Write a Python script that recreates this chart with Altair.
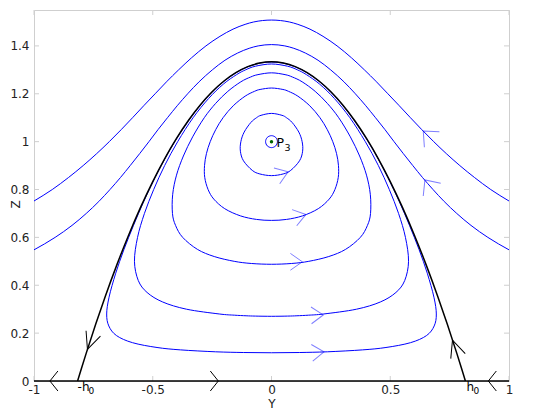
import altair as alt
import pandas as pd

W, H = 475, 371

# ---- axis ticks ----
x_ticks = [-1, -0.5, 0, 0.5, 1]
z_ticks = [0, 0.2, 0.4, 0.6, 0.8, 1.0, 1.2, 1.4]

# ---- open trajectories above the separatrix ----
outer1_y = [-1.0, -0.923, -0.855, -0.793, -0.736, -0.683, -0.633, -0.585, -0.538, -0.490, -0.442, -0.391, -0.337, -0.276, -0.217, -0.162, -0.111, -0.075, 0.0,
            0.075, 0.111, 0.162, 0.217, 0.276, 0.337, 0.391, 0.442, 0.490, 0.538, 0.585, 0.633, 0.683, 0.736, 0.793, 0.855, 0.923, 1.0]
outer1_z = [0.752, 0.80, 0.85, 0.90, 0.95, 1.00, 1.05, 1.10, 1.15, 1.20, 1.25, 1.30, 1.35, 1.40, 1.44, 1.47, 1.49, 1.50, 1.508,
            1.50, 1.49, 1.47, 1.44, 1.40, 1.35, 1.30, 1.25, 1.20, 1.15, 1.10, 1.05, 1.00, 0.95, 0.90, 0.85, 0.80, 0.752]

outer2_y = [-1.0, -0.911, -0.840, -0.780, -0.727, -0.680, -0.636, -0.595, -0.555, -0.516, -0.478, -0.438, -0.397, -0.353, -0.305, -0.249, -0.196, -0.143, -0.094, -0.056, 0.0,
            0.056, 0.094, 0.143, 0.196, 0.249, 0.305, 0.353, 0.397, 0.438, 0.478, 0.516, 0.555, 0.595, 0.636, 0.680, 0.727, 0.780, 0.840, 0.911, 1.0]
outer2_z = [0.548, 0.60, 0.65, 0.70, 0.75, 0.80, 0.85, 0.90, 0.95, 1.00, 1.05, 1.10, 1.15, 1.20, 1.25, 1.30, 1.34, 1.37, 1.39, 1.40, 1.4055,
            1.40, 1.39, 1.37, 1.34, 1.30, 1.25, 1.20, 1.15, 1.10, 1.05, 1.00, 0.95, 0.90, 0.85, 0.80, 0.75, 0.70, 0.65, 0.60, 0.548]

# ---- separatrix (black) ----
sep_y = [-0.8165, -0.80, -0.78, -0.74, -0.70, -0.65, -0.60, -0.55, -0.50, -0.45, -0.40, -0.35, -0.30, -0.25, -0.20, -0.15, -0.10, -0.05, 0.0,
         0.05, 0.10, 0.15, 0.20, 0.25, 0.30, 0.35, 0.40, 0.45, 0.50, 0.55, 0.60, 0.65, 0.70, 0.74, 0.78, 0.80, 0.8165]
sep_z = [0.0, 0.0533, 0.1165, 0.2381, 0.3533, 0.4883, 0.6133, 0.7283, 0.8333, 0.9283, 1.0133, 1.0883, 1.1533, 1.2083, 1.2533, 1.2883, 1.3133, 1.3283, 1.3333,
         1.3283, 1.3133, 1.2883, 1.2533, 1.2083, 1.1533, 1.0883, 1.0133, 0.9283, 0.8333, 0.7283, 0.6133, 0.4883, 0.3533, 0.2381, 0.1165, 0.0533, 0.0]

# invariant line Z = 0
base_y = [-1.0, 1.0]
base_z = [0.0, 0.0]

# ---- closed orbits around P3 (loops) ----
orbA_y = [0.0, 0.049, 0.081, 0.118, 0.131, 0.129, 0.115, 0.087, 0.063, 0.044, 0.0, -0.044, -0.063, -0.087, -0.115, -0.129, -0.131, -0.118, -0.081, -0.049]
orbA_z = [0.858, 0.865, 0.88, 0.92, 0.96, 1.00, 1.04, 1.08, 1.10, 1.11, 1.118, 1.11, 1.10, 1.08, 1.04, 1.00, 0.96, 0.92, 0.88, 0.865]

orbB_y = [0.0, 0.063, 0.131, 0.197, 0.243, 0.267, 0.281, 0.282, 0.274, 0.258, 0.235, 0.204, 0.161, 0.111, 0.072, 0.048, 0.0,
          -0.048, -0.072, -0.111, -0.161, -0.204, -0.235, -0.258, -0.274, -0.282, -0.281, -0.267, -0.243, -0.197, -0.131, -0.063]
orbB_z = [0.671, 0.675, 0.69, 0.72, 0.76, 0.80, 0.85, 0.90, 0.95, 1.00, 1.05, 1.10, 1.15, 1.19, 1.21, 1.218, 1.224,
          1.218, 1.21, 1.19, 1.15, 1.10, 1.05, 1.00, 0.95, 0.90, 0.85, 0.80, 0.76, 0.72, 0.69, 0.675]

orbC_y = [0.0, 0.085, 0.157, 0.241, 0.312, 0.374, 0.404, 0.417, 0.416, 0.400, 0.371, 0.332, 0.283, 0.235, 0.184, 0.129, 0.088, 0.057, 0.0,
          -0.057, -0.088, -0.129, -0.184, -0.235, -0.283, -0.332, -0.371, -0.400, -0.416, -0.417, -0.404, -0.374, -0.312, -0.241, -0.157, -0.085]
orbC_z = [0.4877, 0.491, 0.50, 0.52, 0.55, 0.60, 0.65, 0.70, 0.78, 0.86, 0.94, 1.02, 1.10, 1.16, 1.21, 1.25, 1.27, 1.28, 1.2875,
          1.28, 1.27, 1.25, 1.21, 1.16, 1.10, 1.02, 0.94, 0.86, 0.78, 0.70, 0.65, 0.60, 0.55, 0.52, 0.50, 0.491]

orbD_y = [0.0, 0.068, 0.107, 0.156, 0.220, 0.358, 0.458, 0.524, 0.561, 0.577, 0.564, 0.535, 0.496, 0.450, 0.395, 0.330, 0.265, 0.203, 0.147, 0.109, 0.068, 0.0,
          -0.068, -0.109, -0.147, -0.203, -0.265, -0.330, -0.395, -0.450, -0.496, -0.535, -0.564, -0.577, -0.561, -0.524, -0.458, -0.358, -0.220, -0.156, -0.107, -0.068]
orbD_z = [0.2703, 0.2712, 0.2725, 0.275, 0.28, 0.30, 0.33, 0.37, 0.42, 0.50, 0.60, 0.70, 0.80, 0.90, 1.00, 1.10, 1.18, 1.24, 1.28, 1.30, 1.315, 1.3245,
          1.315, 1.30, 1.28, 1.24, 1.18, 1.10, 1.00, 0.90, 0.80, 0.70, 0.60, 0.50, 0.42, 0.37, 0.33, 0.30, 0.28, 0.275, 0.2725, 0.2712]

orbE_y = [0.0, 0.117, 0.235, 0.383, 0.482, 0.585, 0.653, 0.685, 0.694, 0.684, 0.656, 0.621, 0.581, 0.538, 0.490, 0.437, 0.375, 0.302, 0.226, 0.162, 0.106, 0.061, 0.035, 0.0,
          -0.035, -0.061, -0.106, -0.162, -0.226, -0.302, -0.375, -0.437, -0.490, -0.538, -0.581, -0.621, -0.656, -0.684, -0.694, -0.685, -0.653, -0.585, -0.482, -0.383, -0.235, -0.117]
orbE_z = [0.118, 0.119, 0.122, 0.13, 0.14, 0.16, 0.19, 0.23, 0.28, 0.35, 0.45, 0.55, 0.65, 0.75, 0.85, 0.95, 1.05, 1.15, 1.23, 1.28, 1.31, 1.325, 1.33, 1.3325,
          1.33, 1.325, 1.31, 1.28, 1.23, 1.15, 1.05, 0.95, 0.85, 0.75, 0.65, 0.55, 0.45, 0.35, 0.28, 0.23, 0.19, 0.16, 0.14, 0.13, 0.122, 0.119]

circ_y = [0.025, 0.0177, 0.0, -0.0177, -0.025, -0.0177, 0.0, 0.0177]
circ_z = [1.0, 1.0177, 1.025, 1.0177, 1.0, 0.9823, 0.975, 0.9823]

# ---- equilibrium P3 ----
p3_y = [0.0]
p3_z = [1.0]

# ---- direction arrows (tip position, heading in degrees, screen clockwise) ----
arr_orbit_y = [0.070, 0.145, 0.130, 0.218, 0.221]
arr_orbit_z = [0.874, 0.696, 0.498, 0.276, 0.122]
arr_orbit_a = [340, 344, 0, 358, 355]

arr_outer_y = [0.639, 0.646]
arr_outer_z = [1.044, 0.840]
arr_outer_a = [224, 234]

arr_sep_y = [-0.775, 0.762]
arr_sep_z = [0.132, 0.171]
arr_sep_a = [110, 251]

arr_base_y = [-0.933, -0.224, 0.913]
arr_base_z = [0.0, 0.0, 0.0]
arr_base_a = [180, 0, 180]

# ---- labels ----
h0_y = [-0.8165, 0.8165]
h0_main = ["-h", "h"]
sub0 = ["0", "0"]
p_main = ["P"]
p_sub = ["3"]

FONT = "DejaVu Sans"
GRAY = "#cfcfcf"

xaxis = alt.Axis(values=x_ticks, format="~g", labelExpr="replace(datum.label, '\u2212', '-')",
                 ticks=False, domain=False, grid=False, labelFlush=False, labelOverlap=False,
                 labelPadding=3, labelFont=FONT, labelFontSize=12, labelColor="#222222",
                 title="Y", titleFont=FONT, titleFontSize=12, titleFontWeight="normal", titleColor="#222222",
                 titleX=W / 2, titleY=26, titleBaseline="alphabetic")
yaxis = alt.Axis(values=z_ticks, format="~g", ticks=False, domain=False, grid=False,
                 labelFlush=False, labelOverlap=False,
                 labelPadding=5, labelFont=FONT, labelFontSize=12, labelColor="#222222",
                 title="Z", titleFont=FONT, titleFontSize=12, titleFontWeight="normal", titleColor="#222222",
                 titleAngle=270, titleX=-14.5, titleY=194, titleBaseline="alphabetic", titleAlign="center")

def X():
    return alt.X("Y:Q", scale=alt.Scale(domain=[-1, 1], nice=False, zero=False), axis=xaxis)

def Z():
    return alt.Y("Z:Q", scale=alt.Scale(domain=[0, 1.55], nice=False, zero=False), axis=yaxis)

def curve_df(curves):
    rows = []
    for name, ys, zs in curves:
        assert len(ys) == len(zs), name
        for i, (a, b) in enumerate(zip(ys, zs)):
            rows.append({"curve": name, "idx": i, "Y": a, "Z": b})
    return pd.DataFrame(rows)

open_df = curve_df([("o1", outer1_y, outer1_z), ("o2", outer2_y, outer2_z)])
closed_df = curve_df([("A", orbA_y, orbA_z), ("B", orbB_y, orbB_z), ("C", orbC_y, orbC_z),
                      ("D", orbD_y, orbD_z), ("E", orbE_y, orbE_z), ("c", circ_y, circ_z)])
sep_df = curve_df([("s", sep_y, sep_z)])
base_df = curve_df([("b", base_y, base_z)])

# frame ticks (inward)
tick_left = alt.Chart(pd.DataFrame({"Z": z_ticks})).mark_rule(color=GRAY, strokeWidth=1).encode(
    y=Z(), x=alt.value(0), x2=alt.value(5))
tick_right = alt.Chart(pd.DataFrame({"Z": z_ticks})).mark_rule(color=GRAY, strokeWidth=1).encode(
    y=Z(), x=alt.value(W - 5), x2=alt.value(W))
tick_top = alt.Chart(pd.DataFrame({"Y": x_ticks})).mark_rule(color=GRAY, strokeWidth=1).encode(
    x=X(), y=alt.value(0), y2=alt.value(5))
tick_bottom = alt.Chart(pd.DataFrame({"Y": x_ticks})).mark_rule(color=GRAY, strokeWidth=1).encode(
    x=X(), y=alt.value(H - 5), y2=alt.value(H))

open_lines = alt.Chart(open_df).mark_line(interpolate="monotone", color="#0000ff", strokeWidth=1, clip=True).encode(
    x=X(), y=Z(), detail="curve:N", order="idx:Q")
closed_lines = alt.Chart(closed_df).mark_line(interpolate="cardinal-closed", color="#0000ff", strokeWidth=1).encode(
    x=X(), y=Z(), detail="curve:N", order="idx:Q")
sep_line = alt.Chart(sep_df).mark_line(interpolate="monotone", color="black", strokeWidth=1.5).encode(
    x=X(), y=Z(), detail="curve:N", order="idx:Q")
base_line = alt.Chart(base_df).mark_line(color="black", strokeWidth=1.6).encode(
    x=X(), y=Z(), detail="curve:N", order="idx:Q")

def arrows(ys, zs, angs, path, size, color, opacity):
    df = pd.DataFrame({"Y": ys, "Z": zs, "ang": angs})
    return alt.Chart(df).mark_point(shape=path, size=size, filled=False, color=color,
                                    strokeWidth=1, opacity=opacity).encode(
        x=X(), y=Z(), angle=alt.Angle("ang:Q", scale=None))

a_orbit = arrows(arr_orbit_y, arr_orbit_z, arr_orbit_a, "M -1 -0.7 L 0 0 L -1 0.7", 576, "#0000ff", 0.5)
a_outer = arrows(arr_outer_y, arr_outer_z, arr_outer_a, "M -1 -0.9 L 0 0 L -1 0.9", 576, "#0000ff", 0.5)
a_sep = arrows(arr_sep_y, arr_sep_z, arr_sep_a, "M -1 -0.45 L 0 0 L -1 0.45", 1156, "black", 1)
a_base = arrows(arr_base_y, arr_base_z, arr_base_a, "M -0.8 -1 L 0 0 L -0.8 1", 400, "black", 1)

p3_dot = alt.Chart(pd.DataFrame({"Y": p3_y, "Z": p3_z})).mark_circle(size=12, color="#006400", opacity=1).encode(
    x=X(), y=Z())

p_txt = alt.Chart(pd.DataFrame({"Y": p3_y, "Z": p3_z, "t": p_main})).mark_text(
    align="left", baseline="alphabetic", dx=5, dy=5, font=FONT, fontSize=12.5, color="black").encode(
    x=X(), y=Z(), text="t:N")
p_sub_txt = alt.Chart(pd.DataFrame({"Y": p3_y, "Z": p3_z, "t": p_sub})).mark_text(
    align="left", baseline="alphabetic", dx=13, dy=9, font=FONT, fontSize=9.5, color="black").encode(
    x=X(), y=Z(), text="t:N")

h_df = pd.DataFrame({"Y": h0_y, "Z": [0.0, 0.0], "t": h0_main, "s": sub0})
h_left = alt.Chart(h_df.iloc[[0]]).mark_text(align="left", baseline="top", dx=0, dy=1, font=FONT,
                                              fontSize=12, color="black").encode(x=X(), y=Z(), text="t:N")
h_left_sub = alt.Chart(h_df.iloc[[0]]).mark_text(align="left", baseline="top", dx=11, dy=6, font=FONT,
                                                  fontSize=9, color="black").encode(x=X(), y=Z(), text="s:N")
h_right = alt.Chart(h_df.iloc[[1]]).mark_text(align="left", baseline="top", dx=1, dy=1, font=FONT,
                                               fontSize=12, color="black").encode(x=X(), y=Z(), text="t:N")
h_right_sub = alt.Chart(h_df.iloc[[1]]).mark_text(align="left", baseline="top", dx=8, dy=6, font=FONT,
                                                   fontSize=9, color="black").encode(x=X(), y=Z(), text="s:N")

chart = alt.layer(
    tick_left, tick_right, tick_top, tick_bottom,
    open_lines, closed_lines, sep_line, base_line,
    a_orbit, a_outer, a_sep, a_base,
    p3_dot, p_txt, p_sub_txt, h_left, h_left_sub, h_right, h_right_sub,
).properties(
    width=W, height=H,
    autosize=alt.AutoSizeParams(type="none"),
    padding={"left": 26, "top": 2, "right": 28, "bottom": 28},
    background="white",
).configure_view(stroke=GRAY, strokeWidth=1)

chart.save("out.html", embed_options={"renderer": "svg", "actions": False})
